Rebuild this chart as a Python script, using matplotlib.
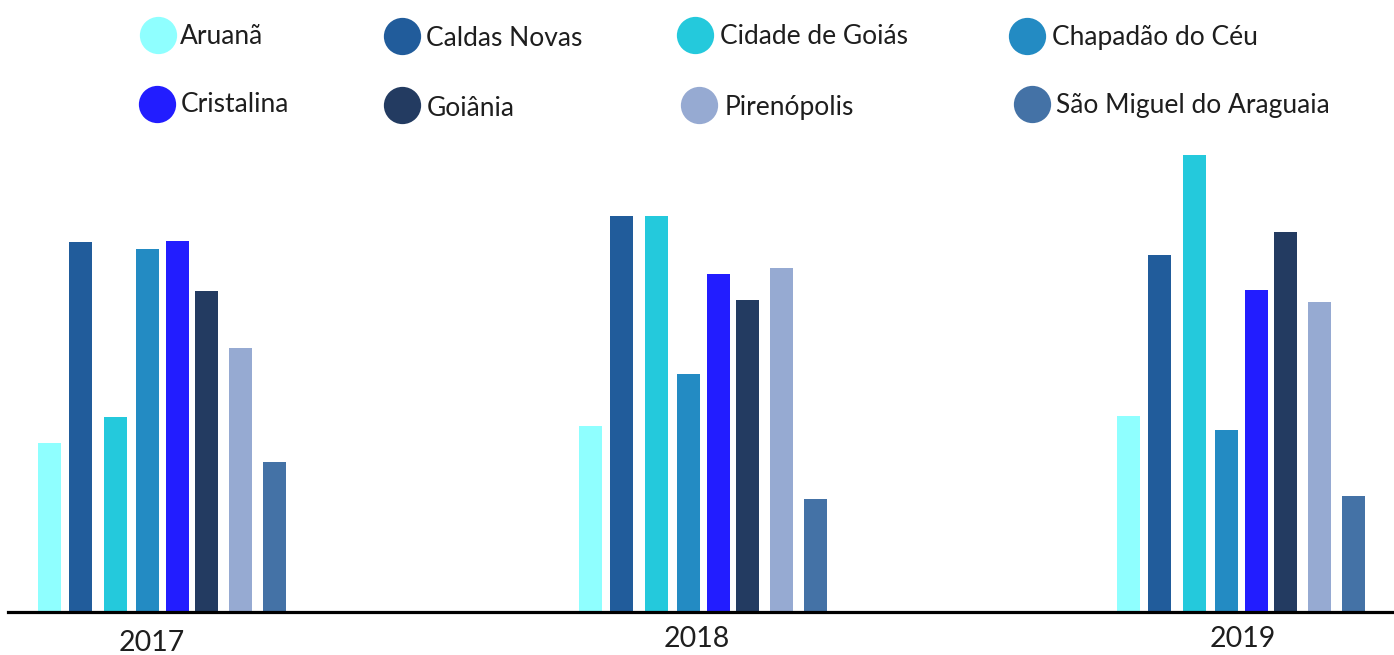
import matplotlib
matplotlib.use("Agg")
import matplotlib.pyplot as plt

# Data
years = ["2017", "2018", "2019"]
cities = ["Aruanã", "Caldas Novas", "Cidade de Goiás", "Chapadão do Céu",
          "Cristalina", "Goiânia", "Pirenópolis", "São Miguel do Araguaia"]
values_2017 = [169, 370, 195, 363, 371, 321, 264, 150]
values_2018 = [186, 396, 396, 238, 338, 312, 344, 113]
values_2019 = [196, 357, 457, 182, 322, 380, 310, 116]
colors = ["#8FFFFF", "#215C9B", "#24C9DC", "#238BC3",
          "#221DFF", "#233B61", "#96AAD2", "#4472A6"]

series = [values_2017, values_2018, values_2019]

W, H = 1394, 655
fig = plt.figure(figsize=(W / 100, H / 100), dpi=100)
plt.rcParams["font.family"] = ["Lato", "DejaVu Sans"]

base_px = 612
ax = fig.add_axes([0, (H - base_px) / H, 1, base_px / H])
ax.set_xlim(0, W)
ax.set_ylim(0, base_px)

# layout of the groups along the axis
group_start = [38, 579, 1117]
bar_offsets = [0, 31, 66, 98, 128, 157, 191, 225]
bar_w = 23

for g, vals in enumerate(series):
    xs = [group_start[g] + o + bar_w / 2 for o in bar_offsets]
    ax.bar(xs, vals, width=bar_w, color=colors, zorder=2)

for s in ["top", "right", "left"]:
    ax.spines[s].set_visible(False)
ax.spines["bottom"].set_linewidth(2.3)
ax.spines["bottom"].set_color("black")
ax.spines["bottom"].set_bounds(8, W)
ax.set_yticks([])
ax.set_xticks([])

year_label_pos = [(152, -31), (697, -27), (1243, -27)]
for (x, y), label in zip(year_label_pos, years):
    ax.text(x, y, label, ha="center", va="center", fontsize=20.5,
            color="#1e1e1e", clip_on=False)

# Legend drawn in pixel coordinates
lax = fig.add_axes([0, 0, 1, 1], facecolor="none")
lax.set_xlim(0, W)
lax.set_ylim(H, 0)
lax.axis("off")

marker_pos = [(158, 35), (402, 36), (695, 35), (1027, 36),
              (157, 104), (402, 105), (699, 105), (1032, 104)]
text_pos = [(180, 36), (426, 38), (720, 36), (1052, 37),
            (181, 105), (427, 108), (725, 108), (1056, 105)]
for city, col, (mx, my), (tx, ty) in zip(cities, colors, marker_pos, text_pos):
    lax.scatter([mx], [my], s=720, color=col, marker="o", linewidths=0)
    lax.text(tx, ty, city, ha="left", va="center", fontsize=19,
             color="#1e1e1e")

fig.savefig("out.png", dpi=100)
